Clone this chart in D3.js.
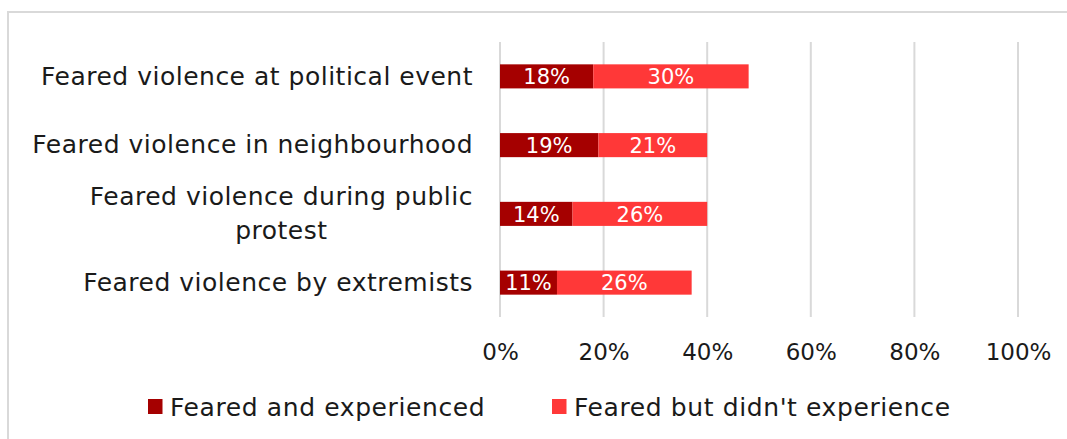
<!DOCTYPE html>
<html>
<head>
<meta charset="utf-8">
<script src="https://cdn.jsdelivr.net/npm/d3@7/dist/d3.min.js"></script>
<style>
  html, body { margin: 0; padding: 0; background: #ffffff; }
  svg { display: block; }
  text { font-family: "DejaVu Sans", sans-serif; }
</style>
</head>
<body>
<svg id="chart" width="1067" height="439"></svg>
<script>
// Survey categories, top to bottom
const categories = [
  "Feared violence at political event",
  "Feared violence in neighbourhood",
  "Feared violence during public protest",
  "Feared violence by extremists"
];
// Wrapped label lines for each category
const categoryLines = [
  ["Feared violence at political event"],
  ["Feared violence in neighbourhood"],
  ["Feared violence during public", "protest"],
  ["Feared violence by extremists"]
];
// Series values (percent)
const fearedExperienced = [18, 19, 14, 11];
const fearedNotExperienced = [30, 21, 26, 26];
const seriesNames = ["Feared and experienced", "Feared but didn't experience"];
const seriesColors = ["#a50000", "#ff3838"];
const tickValues = [0, 20, 40, 60, 80, 100];

const svg = d3.select("#chart");

// Chart frame
svg.append("rect")
  .attr("x", 8).attr("y", 12)
  .attr("width", 1067).attr("height", 450)
  .attr("fill", "#ffffff")
  .attr("stroke", "#d9d9d9").attr("stroke-width", 2);

const x = d3.scaleLinear().domain([0, 100]).range([500, 1018]);
const y = d3.scaleBand().domain(categories).range([42, 317])
  .paddingInner(0.65).paddingOuter(0.325);

// Vertical gridlines
svg.append("g")
  .selectAll("line")
  .data(tickValues)
  .join("line")
  .attr("x1", d => x(d)).attr("x2", d => x(d))
  .attr("y1", 42).attr("y2", 317)
  .attr("stroke", "#d9d9d9").attr("stroke-width", 2);

// Tick labels via axis
const axis = d3.axisBottom(x).tickValues(tickValues).tickFormat(d => d + "%").tickSize(0).tickPadding(0);
const axisG = svg.append("g").attr("transform", "translate(0,360)").call(axis);
axisG.select(".domain").remove();
axisG.selectAll("text")
  .attr("y", 0).attr("dy", 0)
  .attr("font-family", "DejaVu Sans, sans-serif")
  .attr("font-size", 23)
  .attr("fill", "#1a1a1a");

// Stacked data
const rows = categories.map((c, i) => ({
  cat: c,
  parts: [
    { s: 0, x0: 0, x1: fearedExperienced[i], v: fearedExperienced[i] },
    { s: 1, x0: fearedExperienced[i], x1: fearedExperienced[i] + fearedNotExperienced[i], v: fearedNotExperienced[i] }
  ]
}));

const rowG = svg.append("g").selectAll("g")
  .data(rows).join("g")
  .attr("transform", d => `translate(0,${y(d.cat)})`);

rowG.selectAll("rect")
  .data(d => d.parts).join("rect")
  .attr("x", p => x(p.x0))
  .attr("width", p => x(p.x1) - x(p.x0))
  .attr("y", 0)
  .attr("height", y.bandwidth())
  .attr("fill", p => seriesColors[p.s]);

rowG.selectAll("text")
  .data(d => d.parts).join("text")
  .attr("x", p => (x(p.x0) + x(p.x1)) / 2)
  .attr("y", y.bandwidth() / 2)
  .attr("dy", "0.37em")
  .attr("text-anchor", "middle")
  .attr("font-size", 21)
  .attr("fill", "#ffffff")
  .text(p => p.v + "%");

// Category labels
const labelG = svg.append("g").selectAll("g")
  .data(categories).join("g");
labelG.each(function(c, i) {
  const lines = categoryLines[i];
  const cy = y(c) + y.bandwidth() / 2;
  const lh = 34;
  const t = d3.select(this).append("text")
    .attr("font-size", 25)
    .attr("letter-spacing", 0.5)
    .attr("fill", "#1a1a1a")
    .attr("text-anchor", "middle");
  lines.forEach((ln, k) => {
    t.append("tspan")
      .attr("x", 0)
      .attr("y", cy + (k - (lines.length - 1) / 2) * lh)
      .attr("dy", "0.33em")
      .text(ln);
  });
  // right-align the block at x = 473
  const w = t.node().getBBox().width;
  t.attr("transform", `translate(${473 - w / 2},0)`);
});

// Legend
const legendItems = [
  { name: seriesNames[0], color: seriesColors[0], x: 148 },
  { name: seriesNames[1], color: seriesColors[1], x: 552 }
];
const lg = svg.append("g").selectAll("g").data(legendItems).join("g")
  .attr("transform", d => `translate(${d.x},399)`);
lg.append("rect").attr("width", 14.5).attr("height", 15).attr("fill", d => d.color);
lg.append("text")
  .attr("x", 22).attr("y", 17)
  .attr("font-size", 25).attr("letter-spacing", 0.6).attr("fill", "#1a1a1a")
  .text(d => d.name);
</script>
</body>
</html>
